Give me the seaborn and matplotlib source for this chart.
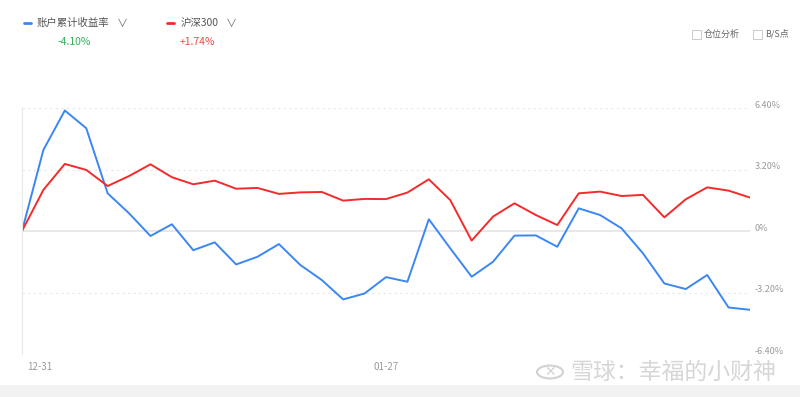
import numpy as np
import pandas as pd
import matplotlib
matplotlib.use("Agg")
import matplotlib.pyplot as plt
import matplotlib.transforms as mtransforms
from matplotlib.patches import Rectangle, Circle
import seaborn as sns

# daily cumulative returns (%), 35 trading days
account = [0.00, 4.22, 6.27, 5.35, 1.96, 0.92, -0.26, 0.35, -1.00, -0.59,
           -1.74, -1.34, -0.68, -1.77, -2.55, -3.56, -3.25, -2.40, -2.64, 0.61,
           -0.90, -2.38, -1.60, -0.24, -0.23, -0.82, 1.18, 0.83, 0.14, -1.16,
           -2.73, -3.02, -2.29, -3.98, -4.10]
hs300 = [0.00, 2.14, 3.49, 3.18, 2.34, 2.86, 3.47, 2.80, 2.43, 2.62,
         2.20, 2.24, 1.93, 2.01, 2.03, 1.58, 1.67, 1.66, 2.00, 2.69,
         1.61, -0.50, 0.75, 1.44, 0.83, 0.31, 1.96, 2.05, 1.82, 1.88,
         0.71, 1.65, 2.27, 2.10, 1.74]
series_names = ["账户累计收益率", "沪深300"]
series_colors = ["#3b87f2", "#f52a2a"]
x_tick_pos = [0, 17]
x_tick_labels = ["12-31", "01-27"]
y_ticks = [-6.4, -3.2, 0, 3.2, 6.4]
y_tick_labels = ["-6.40%", "-3.20%", "0%", "3.20%", "6.40%"]

days = np.arange(len(account))
df = pd.concat([
    pd.DataFrame({"day": days, "ret": account, "name": series_names[0]}),
    pd.DataFrame({"day": days, "ret": hs300, "name": series_names[1]}),
])

sns.set_style("white")
plt.rcParams["font.family"] = ["Noto Sans CJK SC", "DejaVu Sans"]

fig = plt.figure(figsize=(8, 3.97), dpi=100)
ax = fig.add_axes([22 / 800, 1 - 354 / 397, 728 / 800, 246 / 397])

ax.axhline(0, color="#e4e4e4", lw=1.2, zorder=0)
for v in [-6.4, -3.2, 3.2, 6.4]:
    ax.axhline(v, color="#e3e8f0", lw=0.8, ls=(0, (2, 3)), zorder=0)

sns.lineplot(data=df, x="day", y="ret", hue="name", palette=series_colors,
             hue_order=series_names, linewidth=1.4, legend=False, ax=ax)
for ln in ax.get_lines():
    ln.set_solid_joinstyle("round")

ax.set_xlim(0, len(account) - 1)
ax.set_ylim(-6.4, 6.4)
ax.set_xlabel("")
ax.set_ylabel("")
for s in ["top", "right", "bottom"]:
    ax.spines[s].set_visible(False)
ax.spines["left"].set_color("#e8e8e8")
ax.spines["left"].set_linewidth(0.8)

ax.yaxis.tick_right()
ax.set_yticks(y_ticks)
ax.set_yticklabels(y_tick_labels)
ax.tick_params(axis="y", length=0, pad=3.5, labelsize=6.5, labelcolor="#9a9a9a")
up = mtransforms.ScaledTranslation(0, 4 / 100, fig.dpi_scale_trans)
for lab in ax.get_yticklabels():
    lab.set_transform(lab.get_transform() + up)

ax.set_xticks(x_tick_pos)
ax.set_xticklabels(x_tick_labels)
ax.tick_params(axis="x", length=0, pad=6, labelsize=7, labelcolor="#9a9a9a")
ax.get_xticklabels()[0].set_horizontalalignment("left")
right = mtransforms.ScaledTranslation(5 / 100, 0, fig.dpi_scale_trans)
ax.get_xticklabels()[0].set_transform(ax.get_xticklabels()[0].get_transform() + right)

# legend header
def fx(px):
    return px / 800

def fy(py):
    return 1 - py / 397

fig.add_artist(plt.Line2D([fx(24), fx(31)], [fy(23), fy(23)], color=series_colors[0], lw=2))
fig.text(fx(37), fy(23), series_names[0], fontsize=7.5, color="#555555", va="center")
fig.text(fx(117), fy(24), "∨", fontsize=8, color="#777777", va="center")
fig.text(fx(58), fy(42), "-4.10%", fontsize=7.5, color="#2fb25a", va="center")

fig.add_artist(plt.Line2D([fx(167), fx(174)], [fy(23), fy(23)], color=series_colors[1], lw=2))
fig.text(fx(181), fy(23), series_names[1], fontsize=7.5, color="#555555", va="center")
fig.text(fx(226), fy(24), "∨", fontsize=8, color="#777777", va="center")
fig.text(fx(180), fy(42), "+1.74%", fontsize=7.5, color="#f04848", va="center")

# checkboxes
for bx, label in [(692, "仓位分析"), (753, "B/S点")]:
    fig.add_artist(Rectangle((fx(bx), fy(39)), fx(9), 9 / 397, fill=False,
                             edgecolor="#cccccc", lw=0.7))
    fig.text(fx(bx + 12), fy(34), label, fontsize=6.5, color="#666666", va="center")

# bottom band and watermark
fig.add_artist(Rectangle((0, 0), 1, 12 / 397, color="#f2f2f2", lw=0))
fig.add_artist(Circle((fx(550), fy(372)), 13 / 800, fill=False, edgecolor="#d2d2d2", lw=1.5))
fig.text(fx(550), fy(372), "✕", fontsize=10, color="#d2d2d2", ha="center", va="center",
         family=["DejaVu Sans"])
fig.text(fx(570), fy(372), "雪球：幸福的小财神", fontsize=16.5, color="#d6d6d6", va="center")

fig.savefig("out.png", dpi=100)
